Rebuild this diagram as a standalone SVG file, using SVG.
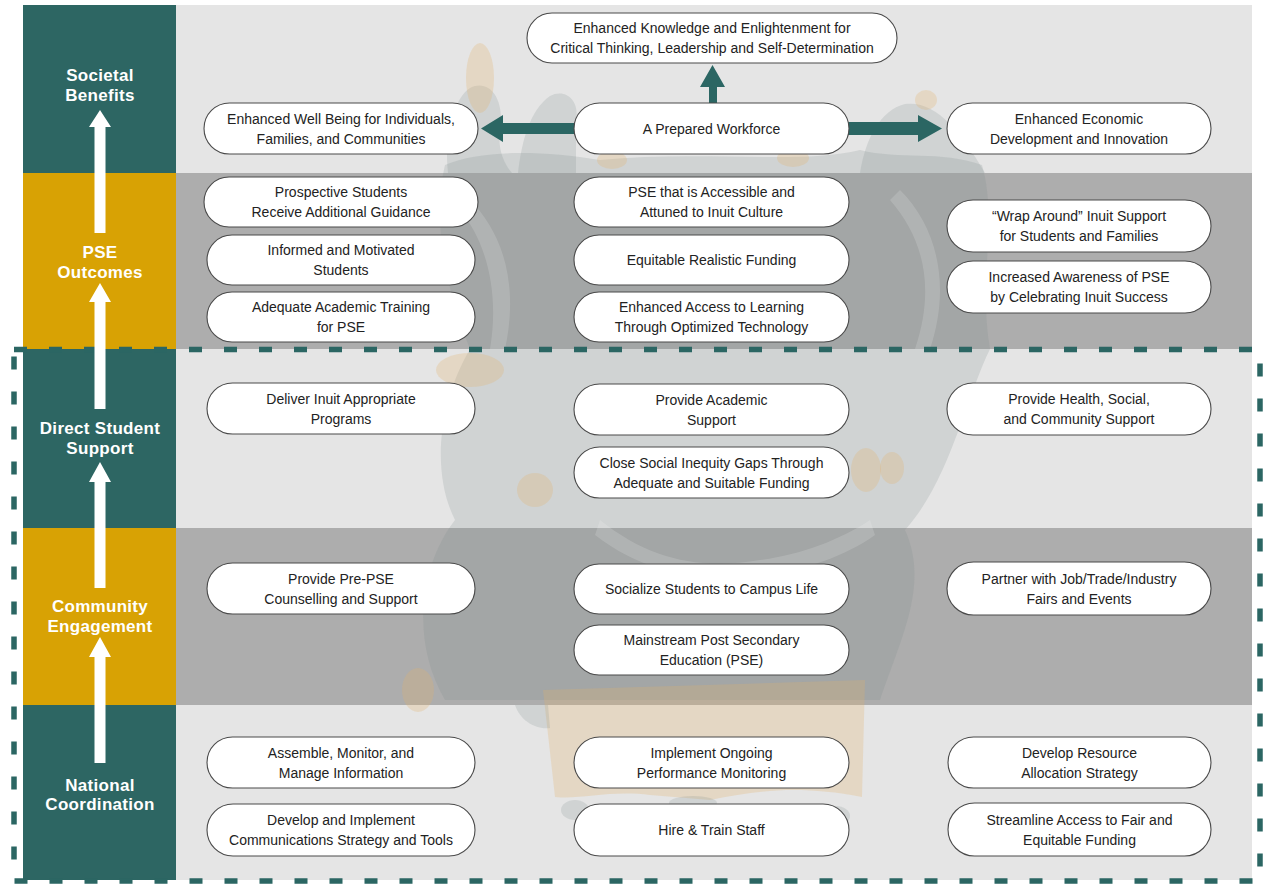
<svg xmlns="http://www.w3.org/2000/svg" width="1264" height="884" viewBox="0 0 1264 884">
<style>
.teal{fill:#2d6663}
.gold{fill:#d8a204}
.lite{fill:#e5e5e5}
.dark{fill:#adadad}
.lab{font-family:"Liberation Sans",Arial,sans-serif;font-size:17px;font-weight:bold;fill:#ffffff;text-anchor:middle;letter-spacing:0.3px}
.node rect{fill:#ffffff;stroke:#4a4a4a;stroke-width:1.1}
.node text{font-family:"Liberation Sans",Arial,sans-serif;font-size:14px;fill:#222222;text-anchor:middle}
.wg{fill:#7d8d8b;opacity:0.2}
.wb{fill:#e3b36a;opacity:0.26}
.wl{fill:#ffffff;opacity:0.15}
.ta{fill:#2b6663}
.wa{fill:#ffffff}
</style>
<rect x="0" y="0" width="1264" height="884" fill="#ffffff"/>
<g id="background">
<rect class="lite" x="176" y="5" width="1076" height="168"/>
<rect class="dark" x="176" y="173" width="1076" height="176"/>
<rect class="lite" x="176" y="349" width="1076" height="179"/>
<rect class="dark" x="176" y="528" width="1076" height="177"/>
<rect class="lite" x="176" y="705" width="1076" height="175"/>
</g>
<g id="watermark">
<path class="wg" d="M445,165 C430,225 450,300 470,349 C440,400 430,470 455,520 C420,565 410,640 445,700 L880,700 C900,640 930,585 905,530 C950,480 965,400 990,349 C978,280 998,220 982,165 C940,150 900,160 860,150 C800,165 700,150 600,160 C540,150 480,150 445,165 Z"/>
<path class="wg" d="M448,173 C444,140 452,100 470,88 C490,78 505,100 500,130 C497,150 505,165 512,173 Z"/>
<path class="wg" d="M518,173 C522,140 530,110 550,96 C565,88 580,100 576,120 L576,173 Z"/>
<path class="wg" d="M860,173 C865,140 880,110 905,104 C935,100 960,130 985,173 Z"/>
<path class="wl" d="M470,200 C500,230 520,280 505,349 L490,349 C500,290 485,240 460,210 Z"/>
<path class="wl" d="M900,190 C940,230 950,290 930,349 L915,349 C935,290 925,240 890,200 Z"/>
<path class="wl" d="M600,520 C650,560 700,570 760,560 C800,555 840,540 870,520 L875,535 C840,560 790,575 740,578 C690,580 640,570 595,535 Z"/>
<ellipse class="wb" cx="480" cy="78" rx="14" ry="35"/>
<ellipse class="wb" cx="612" cy="160" rx="15" ry="9"/>
<ellipse class="wb" cx="793" cy="158" rx="16" ry="9"/>
<ellipse class="wb" cx="926" cy="100" rx="11" ry="10"/>
<ellipse class="wb" cx="470" cy="370" rx="34" ry="17"/>
<ellipse class="wb" cx="535" cy="490" rx="18" ry="17"/>
<ellipse class="wb" cx="866" cy="470" rx="15" ry="22"/>
<ellipse class="wb" cx="892" cy="468" rx="12" ry="16"/>
<ellipse class="wb" cx="418" cy="690" rx="16" ry="22"/>
<path class="wb" d="M543,690 L865,680 L862,797 C800,785 760,790 710,800 L650,795 C610,790 580,800 555,797 Z"/>
<ellipse class="wg" cx="575" cy="810" rx="14" ry="10"/>
<ellipse class="wg" cx="693" cy="803" rx="24" ry="7"/>
<ellipse class="wg" cx="836" cy="816" rx="14" ry="10"/>
<path class="wg" d="M515,705 C520,720 535,730 550,728 L548,705 Z"/>
</g>
<g id="layers">
<rect class="teal" x="23" y="5" width="153" height="168"/>
<rect class="gold" x="23" y="173" width="153" height="176"/>
<rect class="teal" x="23" y="349" width="153" height="179"/>
<rect class="gold" x="23" y="528" width="153" height="177"/>
<rect class="teal" x="23" y="705" width="153" height="175"/>
</g>
<g id="dashed-border">
<rect x="14" y="349.5" width="1246" height="531.5" fill="none" stroke="#2b6663" stroke-width="5.5" stroke-dasharray="13 22"/>
</g>
<g id="label-societal"><text class="lab" x="100" y="81">Societal</text><text class="lab" x="100" y="101">Benefits</text></g>
<g id="label-pse"><text class="lab" x="100" y="258">PSE</text><text class="lab" x="100" y="278">Outcomes</text></g>
<g id="label-direct"><text class="lab" x="100" y="434">Direct Student</text><text class="lab" x="100" y="454">Support</text></g>
<g id="label-community"><text class="lab" x="100" y="612">Community</text><text class="lab" x="100" y="632">Engagement</text></g>
<g id="label-national"><text class="lab" x="100" y="791">National</text><text class="lab" x="100" y="810">Coordination</text></g>
<g id="connectors">
<polygon class="wa" points="94.5,233 94.5,127 89,127 100,110 111,127 105.5,127 105.5,233"/>
<polygon class="wa" points="94.5,409 94.5,302 89,302 100,283 111,302 105.5,302 105.5,409"/>
<polygon class="wa" points="94.5,588 94.5,482 89,482 100,462 111,482 105.5,482 105.5,588"/>
<polygon class="wa" points="94.5,763 94.5,657 89,657 100,637 111,657 105.5,657 105.5,763"/>
<polygon class="ta" points="709,104 709,87 700,87 712.5,65 725,87 717,87 717,104"/>
<polygon class="ta" points="575,123 503,123 503,115 481,128.5 503,142 503,134 575,134"/>
<polygon class="ta" points="848,122 918,122 918,115 942,128.5 918,142 918,135 848,135"/>
</g>
<g id="n-knowledge" class="node"><rect x="527" y="13" width="370" height="50" rx="25"/><text x="712" y="32.5">Enhanced Knowledge and Enlightenment for</text><text x="712" y="52.5">Critical Thinking, Leadership and Self-Determination</text></g>
<g id="n-wellbeing" class="node"><rect x="204" y="103" width="274" height="51" rx="25.5"/><text x="341" y="124">Enhanced Well Being for Individuals,</text><text x="341" y="143.5">Families, and Communities</text></g>
<g id="n-workforce" class="node"><rect x="574" y="103" width="275" height="51" rx="25.5"/><text x="711.5" y="133.5">A Prepared Workforce</text></g>
<g id="n-economic" class="node"><rect x="947" y="103" width="264" height="51" rx="25.5"/><text x="1079" y="124">Enhanced Economic</text><text x="1079" y="143.5">Development and Innovation</text></g>
<g id="n-prospective" class="node"><rect x="204" y="177" width="274" height="50" rx="25"/><text x="341" y="197">Prospective Students</text><text x="341" y="217">Receive Additional Guidance</text></g>
<g id="n-informed" class="node"><rect x="207" y="235" width="268" height="50" rx="25"/><text x="341" y="255">Informed and Motivated</text><text x="341" y="275">Students</text></g>
<g id="n-adequate" class="node"><rect x="207" y="292" width="268" height="50" rx="25"/><text x="341" y="312">Adequate Academic Training</text><text x="341" y="332">for PSE</text></g>
<g id="n-accessible" class="node"><rect x="574" y="177" width="275" height="50" rx="25"/><text x="711.5" y="197">PSE that is Accessible and</text><text x="711.5" y="217">Attuned to Inuit Culture</text></g>
<g id="n-equitable" class="node"><rect x="574" y="235" width="275" height="50" rx="25"/><text x="711.5" y="265">Equitable Realistic Funding</text></g>
<g id="n-access" class="node"><rect x="574" y="292" width="275" height="50" rx="25"/><text x="711.5" y="312">Enhanced Access to Learning</text><text x="711.5" y="332">Through Optimized Technology</text></g>
<g id="n-wrap" class="node"><rect x="947" y="200" width="264" height="52" rx="26"/><text x="1079" y="221">“Wrap Around” Inuit Support</text><text x="1079" y="241">for Students and Families</text></g>
<g id="n-awareness" class="node"><rect x="947" y="261" width="264" height="52" rx="26"/><text x="1079" y="282">Increased Awareness of PSE</text><text x="1079" y="302">by Celebrating Inuit Success</text></g>
<g id="n-deliver" class="node"><rect x="207" y="383" width="268" height="51" rx="25.5"/><text x="341" y="403.5">Deliver Inuit Appropriate</text><text x="341" y="423.5">Programs</text></g>
<g id="n-academic" class="node"><rect x="574" y="384" width="275" height="51" rx="25.5"/><text x="711.5" y="404.5">Provide Academic</text><text x="711.5" y="424.5">Support</text></g>
<g id="n-inequity" class="node"><rect x="574" y="447" width="275" height="51" rx="25.5"/><text x="711.5" y="467.5">Close Social Inequity Gaps Through</text><text x="711.5" y="487.5">Adequate and Suitable Funding</text></g>
<g id="n-health" class="node"><rect x="947" y="383" width="264" height="52" rx="26"/><text x="1079" y="404">Provide Health, Social,</text><text x="1079" y="424">and Community Support</text></g>
<g id="n-prepse" class="node"><rect x="207" y="563" width="268" height="51" rx="25.5"/><text x="341" y="583.5">Provide Pre-PSE</text><text x="341" y="603.5">Counselling and Support</text></g>
<g id="n-socialize" class="node"><rect x="574" y="564" width="275" height="50" rx="25"/><text x="711.5" y="594">Socialize Students to Campus Life</text></g>
<g id="n-mainstream" class="node"><rect x="574" y="625" width="275" height="50" rx="25"/><text x="711.5" y="645">Mainstream Post Secondary</text><text x="711.5" y="665">Education (PSE)</text></g>
<g id="n-partner" class="node"><rect x="947" y="562" width="264" height="53" rx="26.5"/><text x="1079" y="583.5">Partner with Job/Trade/Industry</text><text x="1079" y="603.5">Fairs and Events</text></g>
<g id="n-assemble" class="node"><rect x="207" y="737" width="268" height="51" rx="25.5"/><text x="341" y="757.5">Assemble, Monitor, and</text><text x="341" y="777.5">Manage Information</text></g>
<g id="n-communications" class="node"><rect x="207" y="804" width="268" height="52" rx="26"/><text x="341" y="825">Develop and Implement</text><text x="341" y="845">Communications Strategy and Tools</text></g>
<g id="n-monitoring" class="node"><rect x="574" y="737" width="275" height="51" rx="25.5"/><text x="711.5" y="757.5">Implement Ongoing</text><text x="711.5" y="777.5">Performance Monitoring</text></g>
<g id="n-hire" class="node"><rect x="574" y="804" width="275" height="52" rx="26"/><text x="711.5" y="835">Hire &amp; Train Staff</text></g>
<g id="n-resource" class="node"><rect x="948" y="737" width="263" height="51" rx="25.5"/><text x="1079.5" y="757.5">Develop Resource</text><text x="1079.5" y="777.5">Allocation Strategy</text></g>
<g id="n-streamline" class="node"><rect x="948" y="803" width="263" height="53" rx="26.5"/><text x="1079.5" y="824.5">Streamline Access to Fair and</text><text x="1079.5" y="844.5">Equitable Funding</text></g>
</svg>
